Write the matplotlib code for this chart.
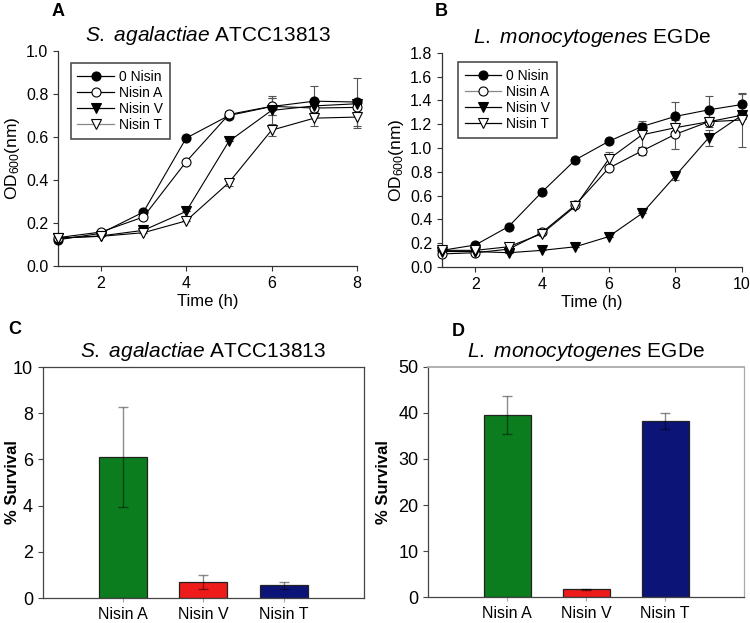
import matplotlib
matplotlib.use("Agg")
import matplotlib.pyplot as plt
import numpy as np

plt.rcParams['font.family'] = ['Liberation Sans', 'DejaVu Sans']
plt.rcParams['mathtext.fontset'] = 'custom'
plt.rcParams['mathtext.rm'] = 'Liberation Sans'
plt.rcParams['mathtext.it'] = 'Liberation Sans:italic'

# ---- Panel A data: S. agalactiae growth ----
time_a = [1, 2, 3, 4, 5, 6, 7, 8]
a_0nisin = [0.122, 0.152, 0.251, 0.595, 0.700, 0.742, 0.767, 0.763]
a_0nisin_err = [0, 0, 0, 0, 0.01, 0.04, 0.07, 0.11]
a_nisinA = [0.132, 0.158, 0.228, 0.485, 0.705, 0.743, 0.735, 0.738]
a_nisinA_err = [0, 0, 0, 0, 0.015, 0.04, 0.02, 0.02]
a_nisinV = [0.130, 0.140, 0.166, 0.254, 0.580, 0.724, 0.745, 0.755]
a_nisinV_err = [0, 0, 0, 0, 0, 0.065, 0.02, 0.02]
a_nisinT = [0.130, 0.138, 0.155, 0.210, 0.388, 0.632, 0.688, 0.693]
a_nisinT_err = [0, 0, 0, 0, 0.015, 0.025, 0.035, 0.05]

# ---- Panel B data: L. monocytogenes growth ----
time_b = [1, 2, 3, 4, 5, 6, 7, 8, 9, 10]
b_0nisin = [0.14, 0.185, 0.34, 0.63, 0.90, 1.055, 1.18, 1.265, 1.32, 1.365]
b_0nisin_err = [0, 0, 0, 0, 0, 0, 0.045, 0.12, 0.115, 0.09]
b_nisinA = [0.11, 0.12, 0.15, 0.29, 0.52, 0.83, 0.975, 1.115, 1.22, 1.275]
b_nisinA_err = [0, 0, 0, 0, 0, 0, 0.03, 0.12, 0.03, 0.03]
b_nisinV = [0.13, 0.13, 0.12, 0.14, 0.17, 0.255, 0.45, 0.765, 1.085, 1.275]
b_nisinV_err = [0, 0, 0, 0, 0, 0, 0, 0.03, 0.07, 0.03]
b_nisinT = [0.14, 0.14, 0.17, 0.28, 0.51, 0.905, 1.11, 1.17, 1.22, 1.235]
b_nisinT_err = [0, 0, 0, 0, 0, 0.06, 0.10, 0.04, 0.04, 0.23]

# ---- Panel C / D data: survival ----
bar_categories = ['Nisin A', 'Nisin V', 'Nisin T']
c_survival = [6.1, 0.68, 0.55]
c_err = [2.15, 0.30, 0.15]
d_survival = [39.5, 1.7, 38.3]
d_err = [4.15, 0.2, 1.7]
bar_colors = ['#0b7d1f', '#ee1b1b', '#0d1478']

series_labels = ['0 Nisin', 'Nisin A', 'Nisin V', 'Nisin T']

fig = plt.figure(figsize=(7.5, 6.23), dpi=100)

axA = fig.add_axes([0.0773, 0.573, 0.3987, 0.345])
axB = fig.add_axes([0.5893, 0.5714, 0.400, 0.344])
axC = fig.add_axes([0.0569, 0.0401, 0.4284, 0.3708])
axD = fig.add_axes([0.571, 0.0413, 0.4213, 0.370])

styles = [
    dict(marker='o', mfc='black', mec='black'),
    dict(marker='o', mfc='white', mec='black'),
    dict(marker='v', mfc='black', mec='black'),
    dict(marker='v', mfc='white', mec='black'),
]
legend_line_colors_A = ['black', 'black', 'black', '#888888']
legend_line_colors_B = ['black', '#888888', 'black', 'black']


def growth_panel(ax, t, series, errs, xlim, ylim, yticks, xticks, italic, rest, leg_colors, leg_anchor):
    handles = []
    for y, e, st, lc in zip(series, errs, styles, leg_colors):
        cont = ax.errorbar(t, y, yerr=e, color='black', lw=0.8, ms=6.5, mew=0.8,
                           ecolor='#555555', elinewidth=0.8, capsize=3, capthick=0.8,
                           zorder=3, **st)
        for art in cont.get_children():
            art.set_clip_on(False)
        h, = ax.plot([], [], color=lc, lw=0.9, ms=6.5, mew=0.8, **st)
        handles.append(h)
    ax.set_xlim(*xlim)
    ax.set_ylim(*ylim)
    ax.set_xticks(xticks)
    ax.set_yticks(yticks)
    ax.set_yticklabels([f'{v:.1f}' for v in yticks])
    for s in ['top', 'right']:
        ax.spines[s].set_visible(False)
    for s in ['left', 'bottom']:
        ax.spines[s].set_color('#333333')
        ax.spines[s].set_linewidth(0.9)
    ax.tick_params(direction='out', length=3.5, width=0.8, color='#333333', labelsize=11.5)
    ax.set_xlabel('Time (h)', fontsize=12, labelpad=2)
    ax.set_ylabel(r'OD$_{600}$(nm)', fontsize=12.5, labelpad=3)
    ax.set_title(r'$\mathit{' + italic.replace(' ', r'\ ') + r'}$' + ' ' + rest, fontsize=15, pad=7)
    leg = ax.legend(handles, series_labels, loc='upper left', bbox_to_anchor=leg_anchor,
                    fontsize=10, frameon=True, fancybox=False, edgecolor='#222222',
                    handlelength=2.6, handletextpad=0.4, labelspacing=0.15,
                    borderpad=0.5, borderaxespad=0)
    leg.get_frame().set_linewidth(1.2)


growth_panel(axA, time_a, [a_0nisin, a_nisinA, a_nisinV, a_nisinT],
             [a_0nisin_err, a_nisinA_err, a_nisinV_err, a_nisinT_err],
             (1, 8), (0, 1.0), np.arange(0, 1.01, 0.2), [2, 4, 6, 8],
             'S. agalactiae', 'ATCC13813', legend_line_colors_A, (0.042, 0.944))

growth_panel(axB, time_b, [b_0nisin, b_nisinA, b_nisinV, b_nisinT],
             [b_0nisin_err, b_nisinA_err, b_nisinV_err, b_nisinT_err],
             (1, 10), (0, 1.8), np.arange(0, 1.81, 0.2), [2, 4, 6, 8, 10],
             'L. monocytogenes', 'EGDe', legend_line_colors_B, (0.052, 0.956))


def bar_panel(ax, vals, errs, ylim, yticks, italic, rest, top_gray, label_x):
    x = np.arange(len(bar_categories))
    ax.bar(x, vals, width=0.6, color=bar_colors, edgecolor='#222222', linewidth=0.9, zorder=2)
    ax.errorbar(x, vals, yerr=errs, fmt='none', ecolor='black', alpha=0.45,
                elinewidth=1.0, capsize=3.5, capthick=1.0, zorder=3)
    ax.set_xlim(-1, 3)
    ax.set_ylim(*ylim)
    ax.set_yticks(yticks)
    ax.set_xticks(x)
    ax.set_xticklabels(bar_categories)
    for s in ax.spines.values():
        s.set_color('#444444')
        s.set_linewidth(0.9)
    if top_gray:
        ax.spines['top'].set_color('#aaaaaa')
        ax.spines['top'].set_linewidth(1.3)
        ax.spines['right'].set_color('#aaaaaa')
    ax.tick_params(axis='y', direction='out', length=3.5, width=0.8, color='#444444', labelsize=13)
    ax.tick_params(axis='x', direction='out', length=3, width=0.8, color='#aaaaaa', labelsize=11.5)
    ax.set_ylabel('% Survival', fontsize=12, fontweight='bold')
    ax.yaxis.set_label_coords(label_x, 0.5)
    ax.set_title(r'$\mathit{' + italic.replace(' ', r'\ ') + r'}$' + ' ' + rest, fontsize=15, pad=7)


bar_panel(axC, c_survival, c_err, (0, 10), [0, 2, 4, 6, 8, 10], 'S. agalactiae', 'ATCC13813', False, -0.072)
bar_panel(axD, d_survival, d_err, (0, 50), [0, 10, 20, 30, 40, 50], 'L. monocytogenes', 'EGDe', True, -0.118)

for lab, (px, py) in zip(['A', 'B', 'C', 'D'], [(52, 12), (435, 12), (8, 329), (452, 332)]):
    fig.text(px / 750, 1 - py / 623, lab, fontsize=13, fontweight='bold', ha='left', va='center')

fig.savefig('out.png', dpi=100)
